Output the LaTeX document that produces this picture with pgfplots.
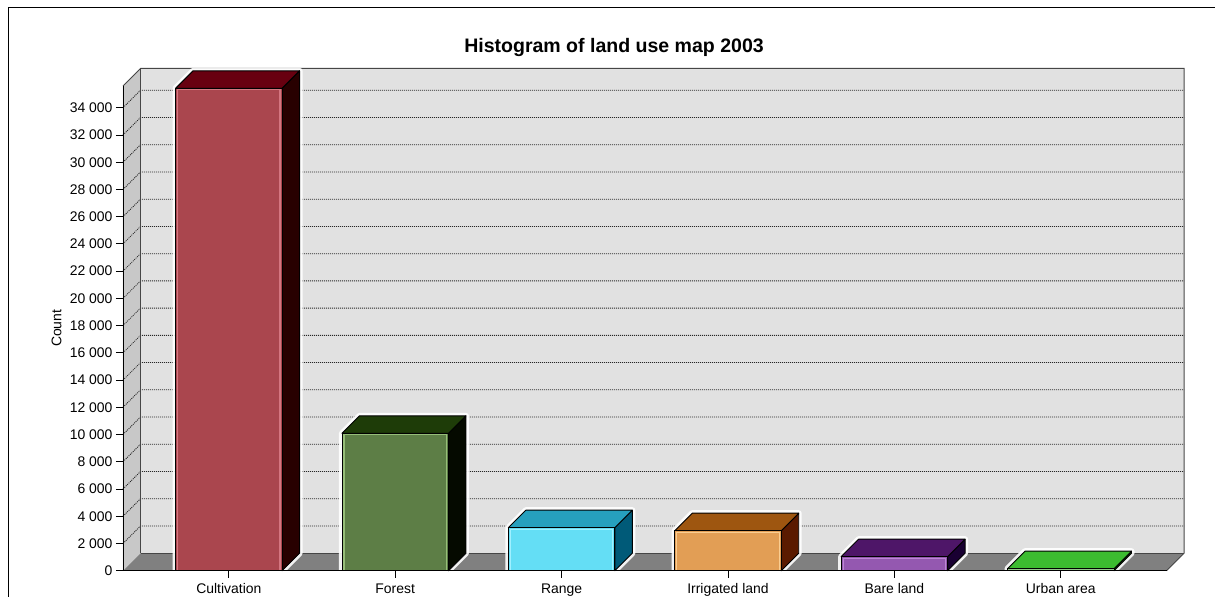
\documentclass[border=0pt]{standalone}
\usepackage{pgfplots}
\pgfplotsset{compat=1.18}
\usepackage{pgfplotstable}
\usepackage{fontspec}
\setmainfont{Liberation Sans}

\pgfplotstableread{
idx count
0 35430
1 10090
2 3160
3 2940
4 1030
5 150
}\landdata

\definecolor{front0}{RGB}{170,70,78}   \definecolor{top0}{RGB}{104,0,16}   \definecolor{side0}{RGB}{40,0,0}    \definecolor{hl0}{RGB}{212,118,128}
\definecolor{front1}{RGB}{93,126,70}   \definecolor{top1}{RGB}{30,60,8}    \definecolor{side1}{RGB}{5,10,0}    \definecolor{hl1}{RGB}{150,190,120}
\definecolor{front2}{RGB}{100,222,245} \definecolor{top2}{RGB}{38,160,190} \definecolor{side2}{RGB}{0,90,120}  \definecolor{hl2}{RGB}{160,240,255}
\definecolor{front3}{RGB}{226,158,85}  \definecolor{top3}{RGB}{158,86,16}  \definecolor{side3}{RGB}{90,26,0}   \definecolor{hl3}{RGB}{250,205,145}
\definecolor{front4}{RGB}{148,88,176}  \definecolor{top4}{RGB}{78,22,104}  \definecolor{side4}{RGB}{25,0,50}   \definecolor{hl4}{RGB}{188,135,212}
\definecolor{front5}{RGB}{150,200,140} \definecolor{top5}{RGB}{60,188,48}  \definecolor{side5}{RGB}{30,110,20} \definecolor{hl5}{RGB}{190,230,180}
\definecolor{backwall}{RGB}{225,225,225}
\definecolor{leftwall}{RGB}{200,200,200}
\definecolor{floorc}{RGB}{128,128,128}
\definecolor{edgec}{RGB}{70,70,70}

% geometry of the pseudo-3D box (axis units)
\def\xa{-0.636}\def\xb{5.636}
\def\xaa{-0.5308}\def\xbb{5.7412}
\def\dX{0.1052}\def\dY{1285}
\def\ya{35600}\def\yab{36885}

\begin{document}
\begin{tikzpicture}[x=1bp,y=1bp]
\useasboundingbox (-123,-26.3) rectangle (1092,570.7);
% outer frame
\draw[line width=1.4bp, black] (-114.7,-60) -- (-114.7,563.2) -- (1110,563.2);
\node[font=\bfseries\fontsize{19.6}{22}\selectfont, anchor=center] at (491,523.5) {Histogram of land use map 2003};

\begin{axis}[
  scale only axis,
  width=1043.6bp, height=484.7bp,
  xmin=\xa, xmax=\xb, ymin=0, ymax=\ya,
  clip=false,
  axis on top,
  axis lines*=left,
  axis line style={black, line width=0.9bp},
  tick style={black, line width=0.9bp},
  tick align=outside,
  major tick length=7bp,
  xtick={0,...,5},
  xticklabels={Cultivation,Forest,Range,Irrigated land,Bare land,Urban area},
  xticklabel style={yshift=-2.5bp},
  ytick={0,2000,...,34000},
  scaled y ticks=false,
  /pgf/number format/.cd, 1000 sep={\ }, assume math mode=true,
  /pgfplots/.cd,
  ticklabel style={font=\fontsize{14}{16}\selectfont},
  ylabel={Count},
  ylabel style={font=\fontsize{14}{16}\selectfont, yshift=1.5bp},
]
% floor
\fill[floorc] (axis cs:\xa,0) -- (axis cs:\xb,0) -- (axis cs:\xbb,\dY) -- (axis cs:\xaa,\dY) -- cycle;
% left wall
\fill[leftwall] (axis cs:\xa,0) -- (axis cs:\xaa,\dY) -- (axis cs:\xaa,\yab) -- (axis cs:\xa,\ya) -- cycle;
% back wall
\fill[backwall] (axis cs:\xaa,\dY) rectangle (axis cs:\xbb,\yab);
% grid lines on the walls
\pgfplotsinvokeforeach{1,...,17}{%
  \edef\gy{\the\numexpr#1*2000\relax}%
  \edef\gyb{\the\numexpr#1*2000+\dY\relax}%
  \edef\tmp{\noexpand\draw[black!85, line width=0.8bp, dash pattern=on 1bp off 1bp] (axis cs:\xa,\gy) -- (axis cs:\xaa,\gyb) -- (axis cs:\xbb,\gyb);}%
  \tmp
}
% wall edges
\draw[edgec, line width=1bp] (axis cs:\xa,\ya) -- (axis cs:\xaa,\yab) -- (axis cs:\xbb,\yab) -- (axis cs:\xbb,\dY) -- (axis cs:\xb,0);
\draw[edgec, line width=0.8bp] (axis cs:\xaa,\dY) -- (axis cs:\xaa,\yab);
\draw[edgec, line width=0.8bp] (axis cs:\xaa,\dY) -- (axis cs:\xbb,\dY);

% bars as prisms
\pgfplotsinvokeforeach{0,...,5}{%
  \pgfplotstablegetelem{#1}{count}\of\landdata
  \edef\v{\pgfplotsretval}%
  \edef\vb{\the\numexpr\v+\dY\relax}%
  \edef\vi{\the\numexpr\v-110\relax}%
  \pgfmathsetmacro\xl{#1-0.32}%
  \pgfmathsetmacro\xr{#1+0.32}%
  \pgfmathsetmacro\xlb{#1-0.32+\dX}%
  \pgfmathsetmacro\xrb{#1+0.32+\dX}%
  \edef\tmp{%
    \noexpand\addplot[draw=white, fill=white, line width=6bp, line join=round, opacity=0.9, forget plot]
      coordinates {(\xl,0) (\xr,0) (\xrb,\dY) (\xrb,\vb) (\xlb,\vb) (\xl,\v)} -- cycle;
    \noexpand\addplot[fill=side#1, draw=black, line width=0.9bp, line join=round, forget plot]
      coordinates {(\xr,0) (\xrb,\dY) (\xrb,\vb) (\xr,\v)} -- cycle;
    \noexpand\addplot[fill=top#1, draw=black, line width=0.9bp, line join=round, forget plot]
      coordinates {(\xl,\v) (\xr,\v) (\xrb,\vb) (\xlb,\vb)} -- cycle;
    \noexpand\addplot[ybar, bar width=0.64, bar shift=0pt, fill=front#1, draw=black, line width=0.9bp, forget plot]
      coordinates {(#1,\v)};
    \noexpand\addplot[ybar, bar width=0.615, bar shift=0pt, fill=none, draw=hl#1, line width=1.2bp, forget plot]
      coordinates {(#1,\vi)};
  }%
  \tmp
}
\end{axis}
\end{tikzpicture}
\end{document}
